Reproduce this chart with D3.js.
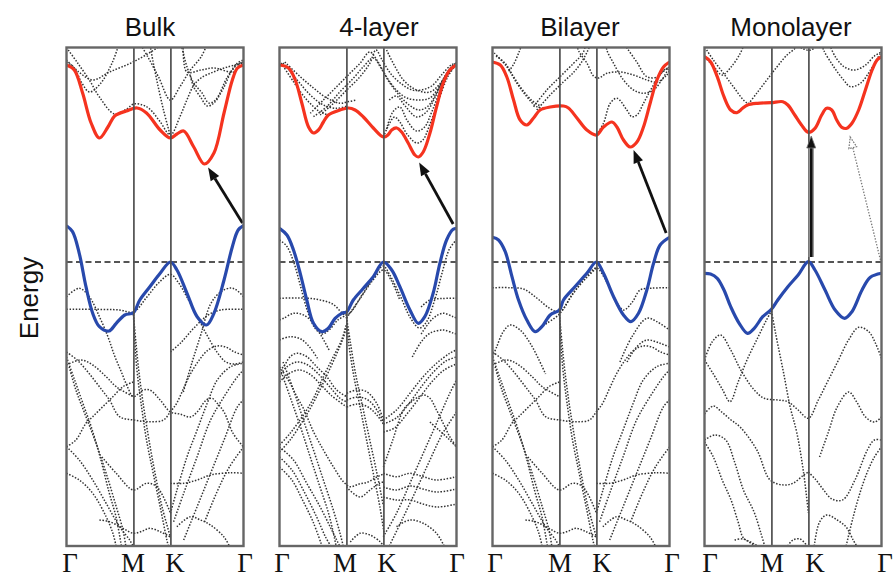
<!DOCTYPE html>
<html>
<head>
<meta charset="utf-8">
<script src="https://cdn.jsdelivr.net/npm/d3@7"></script>
<style>
  body { margin: 0; background: #fff; }
  svg { display: block; }
</style>
</head>
<body>
<svg id="chart" width="894" height="579"></svg>
<script>
// ---- high-symmetry path (fraction of Γ–M–K–Γ path length) ----
const kLabels = ["Γ", "M", "K", "Γ"];
const kTicks = [0, 0.378, 0.587, 1];
// energy window (eV, valence-band maximum at 0)
const energyDomain = [-2.84, 2.145];
const panelTitles = ["Bulk", "4-layer", "Bilayer", "Monolayer"];

// ---- Bulk ----
const bulkCB = [[0,1.97],[0.044,1.92],[0.091,1.69],[0.139,1.39],[0.186,1.24],[0.234,1.35],[0.272,1.46],[0.338,1.51],[0.399,1.54],[0.452,1.49],[0.529,1.32],[0.587,1.24],[0.624,1.28],[0.662,1.31],[0.719,1.15],[0.779,0.98],[0.833,1.09],[0.89,1.49],[0.937,1.82],[0.966,1.94],[1,1.97]];
const bulkVB = [[0,0.363],[0.034,0.303],[0.072,0.087],[0.11,-0.247],[0.148,-0.513],[0.186,-0.647],[0.24,-0.69],[0.281,-0.613],[0.329,-0.53],[0.378,-0.507],[0.414,-0.38],[0.471,-0.247],[0.529,-0.113],[0.587,0.0],[0.624,-0.08],[0.681,-0.313],[0.738,-0.547],[0.791,-0.63],[0.833,-0.513],[0.89,-0.18],[0.937,0.153],[0.97,0.32],[1,0.363]];
const bulkUpper = [
  [[0,2.02],[0.07,1.90],[0.148,1.82],[0.243,1.90],[0.376,2.0],[0.51,2.14],[0.55,2.2]],
  [[0.01,2.12],[0.063,1.99],[0.129,1.82],[0.186,1.65],[0.272,1.48],[0.34,1.53],[0.38,1.58],[0.43,1.57],[0.47,1.53],[0.53,1.40],[0.587,1.27],[0.64,1.45],[0.68,1.62],[0.72,1.77],[0.76,1.84],[0.83,1.90],[0.91,1.95],[1,1.99]],
  [[0.47,2.2],[0.48,2.09],[0.51,1.82],[0.548,1.52],[0.587,1.26]],
  [[0.64,2.2],[0.652,2.14],[0.681,1.95],[0.719,1.79],[0.766,1.69],[0.804,1.59],[0.842,1.62],[0.909,1.85],[0.966,1.99],[1,2.02]],
  [[0.66,2.2],[0.68,1.90],[0.76,1.92],[0.833,1.94],[0.947,1.90],[0.985,1.99],[1,2.0]],
  [[0.70,1.86],[0.719,1.75],[0.757,1.65],[0.795,1.56],[0.833,1.59],[0.89,1.75],[0.93,1.90],[0.97,1.98],[1,2.0]],
  [[0,2.0],[0.04,1.95],[0.09,1.78],[0.13,1.70],[0.19,1.78],[0.26,2.0],[0.3,2.2]],
  [[0.41,2.2],[0.46,2.05],[0.52,1.85],[0.587,1.62],[0.64,1.75],[0.70,1.92],[0.76,2.05],[0.8,2.2]]
];
const bulkLower = [
  [[0,-0.347],[0.072,-0.263],[0.129,-0.347],[0.186,-0.547],[0.234,-0.747],[0.27,-0.93],[0.31,-1.10],[0.345,-1.25],[0.378,-1.347],[0.433,-1.28],[0.471,-1.28],[0.529,-1.38],[0.587,-1.50],[0.64,-1.52],[0.70,-1.55],[0.738,-1.50],[0.79,-1.38],[0.823,-1.363],[0.85,-1.41],[0.89,-1.50],[0.94,-1.71],[1,-1.85]],
  [[0,-0.473],[0.15,-0.473],[0.3,-0.48],[0.378,-0.50],[0.45,-0.36],[0.52,-0.21],[0.587,-0.123],[0.63,-0.20],[0.68,-0.35],[0.74,-0.55],[0.79,-0.72],[0.85,-0.90],[0.9,-1.0],[0.95,-1.02],[1,-1.0]],
  [[0.587,-0.9],[0.65,-0.80],[0.72,-0.66],[0.80,-0.53],[0.87,-0.48],[1,-0.473]],
  [[0.66,-1.3],[0.71,-1.0],[0.76,-0.72],[0.814,-0.42],[0.87,-0.30],[0.928,-0.26],[0.96,-0.28],[1,-0.347]]
];

// deeper valence bands common to the bulk and bilayer structures
const layeredDeep = [
  [[0,-1.03],[0.082,-0.98],[0.148,-1.03],[0.224,-1.147],[0.281,-1.247],[0.378,-1.347]],
  [[0,-0.9],[0.06,-0.98],[0.13,-1.12],[0.2,-1.28],[0.243,-1.38],[0.3,-1.547],[0.378,-1.58],[0.471,-1.597],[0.548,-1.58],[0.587,-1.497],[0.62,-1.42],[0.66,-1.27],[0.70,-1.12],[0.75,-0.98],[0.8,-0.88],[0.85,-0.84],[0.9,-0.85],[0.95,-0.9],[1,-0.93]],
  [[0.587,-2.513],[0.624,-2.28],[0.681,-1.947],[0.738,-1.68],[0.795,-1.413],[0.852,-1.18],[0.928,-1.047],[1,-1.013]],
  [[0.605,-2.597],[0.662,-2.313],[0.738,-1.947],[0.814,-1.58],[0.89,-1.347],[0.966,-1.147],[1,-1.08]],
  [[0.662,-2.78],[0.738,-2.447],[0.814,-2.113],[0.89,-1.78],[0.966,-1.447],[1,-1.38]],
  [[0.587,-2.213],[0.662,-2.213],[0.738,-2.18],[0.814,-2.13],[0.928,-2.107],[1,-2.113]],
  [[0.78,-2.6],[0.85,-2.3],[0.92,-2.05],[1,-1.85]],
  [[0,-1.847],[0.053,-1.78],[0.11,-1.613],[0.148,-1.547],[0.205,-1.447],[0.262,-1.347],[0.319,-1.247],[0.378,-1.2]],
  [[0,-1.847],[0.072,-1.98],[0.148,-2.18],[0.224,-2.413],[0.3,-2.647],[0.357,-2.78],[0.376,-2.84]],
  [[0,-2.113],[0.072,-2.18],[0.148,-2.313],[0.224,-2.547],[0.262,-2.713],[0.28,-2.84]],
  [[0.015,-1.047],[0.053,-1.28],[0.11,-1.547],[0.167,-1.813],[0.224,-2.113],[0.281,-2.447],[0.319,-2.68],[0.335,-2.84]],
  [[0,-0.95],[0.04,-1.15],[0.09,-1.40],[0.14,-1.65],[0.19,-1.95],[0.24,-2.30],[0.28,-2.55],[0.31,-2.84]],
  [[0.378,-0.50],[0.385,-0.78],[0.40,-1.113],[0.424,-1.447],[0.452,-1.78],[0.49,-2.113],[0.529,-2.447],[0.567,-2.78],[0.575,-2.84]],
  [[0.378,-0.52],[0.392,-0.8],[0.41,-1.11],[0.436,-1.45],[0.466,-1.78],[0.50,-2.11],[0.54,-2.45],[0.587,-2.75]],
  [[0.2,-1.95],[0.281,-2.113],[0.378,-2.28],[0.452,-2.213],[0.51,-2.247],[0.587,-2.51]],
  [[0.186,-2.58],[0.243,-2.597],[0.319,-2.663],[0.378,-2.713],[0.43,-2.69],[0.471,-2.663],[0.529,-2.697],[0.587,-2.75]],
  [[0.624,-2.647],[0.70,-2.547],[0.757,-2.58],[0.814,-2.63],[0.89,-2.75],[0.92,-2.84]]
];

// ---- 4-layer ----
const fourCB = [[0,1.97],[0.051,1.94],[0.089,1.82],[0.126,1.59],[0.164,1.35],[0.192,1.29],[0.22,1.32],[0.248,1.40],[0.276,1.47],[0.342,1.52],[0.389,1.54],[0.427,1.52],[0.474,1.45],[0.53,1.34],[0.587,1.25],[0.612,1.27],[0.634,1.32],[0.662,1.34],[0.69,1.30],[0.727,1.19],[0.765,1.07],[0.784,1.05],[0.812,1.10],[0.85,1.29],[0.887,1.55],[0.925,1.79],[0.962,1.92],[1,1.97]];
const fourVB = [[0,0.337],[0.042,0.27],[0.079,0.12],[0.117,-0.113],[0.154,-0.38],[0.192,-0.613],[0.239,-0.697],[0.276,-0.663],[0.314,-0.563],[0.352,-0.513],[0.38,-0.497],[0.417,-0.38],[0.474,-0.263],[0.53,-0.147],[0.587,0.0],[0.634,-0.08],[0.68,-0.247],[0.737,-0.48],[0.784,-0.613],[0.821,-0.547],[0.868,-0.313],[0.906,-0.013],[0.944,0.22],[0.981,0.327],[1,0.337]];
const fourUpper = [
  [[0.01,1.99],[0.08,1.80],[0.155,1.62],[0.23,1.50],[0.276,1.47]],
  [[0.02,1.99],[0.10,1.82],[0.174,1.67],[0.248,1.57],[0.323,1.537],[0.38,1.56]],
  [[0.03,2.0],[0.117,1.853],[0.192,1.74],[0.267,1.64],[0.342,1.587],[0.38,1.60],[0.436,1.62]],
  [[0.174,1.487],[0.248,1.62],[0.323,1.753],[0.398,1.887],[0.455,1.987],[0.51,2.10],[0.55,2.02],[0.605,1.85],[0.66,1.72],[0.72,1.64],[0.79,1.62],[0.85,1.64],[0.9,1.75],[0.95,1.9],[1,1.99]],
  [[0.192,1.453],[0.267,1.553],[0.342,1.703],[0.417,1.837],[0.474,1.953],[0.53,2.04],[0.57,1.95],[0.62,1.80],[0.68,1.66],[0.74,1.56],[0.79,1.52],[0.84,1.56],[0.89,1.70],[0.94,1.87],[1,1.98]],
  [[0.23,1.47],[0.305,1.587],[0.38,1.72],[0.455,1.853],[0.51,1.987],[0.545,2.12],[0.58,2.02],[0.63,1.88],[0.69,1.78],[0.75,1.72],[0.80,1.72],[0.86,1.76],[0.92,1.88],[0.97,1.97],[1,1.99]],
  [[0.587,1.25],[0.62,1.38],[0.65,1.45],[0.68,1.40],[0.72,1.28],[0.774,1.19],[0.81,1.22],[0.85,1.38],[0.9,1.62],[0.95,1.85],[1,1.98]],
  [[0.605,1.33],[0.64,1.50],[0.68,1.55],[0.72,1.42],[0.774,1.31],[0.82,1.35],[0.86,1.50],[0.91,1.72],[0.96,1.90],[1,1.98]],
  [[0.62,1.62],[0.66,1.66],[0.71,1.56],[0.774,1.45],[0.83,1.50],[0.88,1.65],[0.93,1.84],[1,1.98]],
  [[0.605,2.12],[0.70,1.82],[0.774,1.72],[0.85,1.70],[0.915,1.80],[0.97,1.95],[1,1.99]]
];
const fourLower = [
  [[0,0.22],[0.04,0.16],[0.08,0.0],[0.12,-0.25],[0.16,-0.5],[0.2,-0.66],[0.24,-0.72],[0.28,-0.68],[0.33,-0.58],[0.378,-0.53]],
  [[0,-0.363],[0.1,-0.36],[0.2,-0.37],[0.3,-0.42],[0.378,-0.53],[0.47,-0.32],[0.55,-0.10],[0.587,-0.04],[0.62,-0.12],[0.68,-0.33],[0.74,-0.56],[0.79,-0.66],[0.83,-0.60],[0.88,-0.36],[0.92,-0.1],[0.96,0.13],[1,0.22]],
  [[0,-0.58],[0.023,-0.563],[0.079,-0.513],[0.136,-0.53],[0.192,-0.613],[0.24,-0.75],[0.28,-0.88]],
  [[0,-0.78],[0.06,-0.747],[0.12,-0.77],[0.17,-0.85],[0.22,-0.98]],
  [[0.80,-0.45],[0.85,-0.38],[0.92,-0.365],[1,-0.363]],
  [[0.80,-0.72],[0.868,-0.563],[0.924,-0.513],[0.981,-0.547],[1,-0.56]],
  [[0.75,-0.95],[0.80,-0.80],[0.849,-0.713],[0.924,-0.68],[0.981,-0.71],[1,-0.72]],
  [[0.378,-0.56],[0.45,-0.38],[0.52,-0.20],[0.587,-0.08],[0.63,-0.18],[0.68,-0.38]]
];
const fourDeep = [
  [[0,-1.08],[0.023,-1.047],[0.06,-0.947],[0.098,-0.913],[0.154,-0.947],[0.21,-1.047],[0.267,-1.147],[0.323,-1.28],[0.38,-1.347]],
  [[0,-1.15],[0.04,-1.05],[0.1,-1.0],[0.16,-1.03],[0.22,-1.12],[0.28,-1.24],[0.34,-1.36],[0.38,-1.40]],
  [[0,-1.2],[0.05,-1.12],[0.11,-1.08],[0.17,-1.12],[0.23,-1.22],[0.29,-1.33],[0.38,-1.45]],
  [[0.38,-1.313],[0.436,-1.28],[0.492,-1.297],[0.549,-1.413],[0.587,-1.58]],
  [[0.38,-1.38],[0.44,-1.35],[0.50,-1.38],[0.55,-1.48],[0.587,-1.60]],
  [[0.38,-1.45],[0.44,-1.42],[0.50,-1.45],[0.55,-1.53],[0.587,-1.62]],
  [[0,-1.05],[0.013,-1.08],[0.06,-1.213],[0.098,-1.347],[0.135,-1.463],[0.192,-1.697],[0.248,-1.88],[0.304,-2.047],[0.361,-2.197],[0.398,-2.247],[0.45,-2.22],[0.5,-2.20],[0.55,-2.15],[0.587,-2.12]],
  [[0,-1.83],[0.06,-1.713],[0.135,-1.53],[0.192,-1.363],[0.248,-1.147],[0.304,-0.947],[0.351,-0.78],[0.378,-0.62]],
  [[0,-1.90],[0.06,-1.78],[0.135,-1.58],[0.2,-1.38],[0.26,-1.16],[0.32,-0.93],[0.36,-0.76],[0.378,-0.65]],
  [[0,-1.85],[0.079,-1.98],[0.154,-2.213],[0.229,-2.447],[0.286,-2.647],[0.323,-2.78],[0.34,-2.84]],
  [[0,-1.95],[0.07,-2.08],[0.14,-2.3],[0.21,-2.55],[0.26,-2.75],[0.29,-2.84]],
  [[0,-2.05],[0.07,-2.18],[0.13,-2.38],[0.19,-2.6],[0.24,-2.84]],
  [[0.02,-1.0],[0.079,-1.28],[0.135,-1.58],[0.192,-1.88],[0.248,-2.18],[0.304,-2.48],[0.342,-2.713],[0.36,-2.84]],
  [[0.01,-1.1],[0.06,-1.35],[0.115,-1.63],[0.17,-1.93],[0.225,-2.23],[0.28,-2.53],[0.32,-2.84]],
  [[0.378,-0.52],[0.389,-0.78],[0.417,-1.113],[0.455,-1.447],[0.492,-1.78],[0.53,-2.113],[0.567,-2.447],[0.59,-2.7]],
  [[0.378,-0.55],[0.40,-0.80],[0.43,-1.12],[0.47,-1.45],[0.51,-1.78],[0.55,-2.11],[0.587,-2.44]],
  [[0.586,-2.747],[0.661,-2.513],[0.737,-2.213],[0.812,-1.913],[0.887,-1.613],[0.962,-1.313],[1,-1.18]],
  [[0.587,-1.58],[0.661,-1.48],[0.737,-1.313],[0.812,-1.147],[0.887,-1.013],[0.962,-0.913],[1,-0.88]],
  [[0.587,-1.62],[0.66,-1.56],[0.73,-1.42],[0.80,-1.25],[0.87,-1.10],[0.94,-0.99],[1,-0.95]],
  [[0.587,-1.70],[0.65,-1.66],[0.72,-1.52],[0.79,-1.36],[0.86,-1.20],[0.93,-1.08],[1,-1.02]],
  [[0.587,-2.05],[0.64,-1.78],[0.70,-1.48],[0.737,-1.41],[0.812,-1.33],[0.85,-1.363],[0.887,-1.48],[0.925,-1.613],[0.962,-1.747],[1,-1.847]],
  [[0.85,-1.6],[0.9,-1.68],[0.95,-1.76],[1,-1.85]],
  [[0.587,-2.113],[0.661,-2.147],[0.737,-2.113],[0.812,-2.147],[0.887,-2.18],[1,-2.147]],
  [[0.587,-2.25],[0.66,-2.28],[0.74,-2.24],[0.81,-2.27],[0.89,-2.30],[1,-2.27]],
  [[0.587,-2.35],[0.66,-2.38],[0.74,-2.38],[0.81,-2.42],[0.89,-2.45],[1,-2.42]],
  [[0.40,-2.8],[0.455,-2.713],[0.511,-2.73],[0.57,-2.8],[0.587,-2.84]],
  [[0.661,-2.647],[0.737,-2.58],[0.812,-2.613],[0.887,-2.713],[0.93,-2.84]],
  [[0.62,-2.84],[0.70,-2.55],[0.78,-2.25],[0.85,-1.98],[0.92,-1.72],[1,-1.50]],
  [[0.378,-2.25],[0.455,-2.35],[0.511,-2.28],[0.567,-2.21],[0.587,-2.2]]
];

// ---- Bilayer ----
const biCB = [[0,2.00],[0.044,1.97],[0.081,1.85],[0.119,1.62],[0.156,1.42],[0.194,1.37],[0.232,1.44],[0.269,1.52],[0.326,1.55],[0.401,1.56],[0.429,1.54],[0.477,1.44],[0.533,1.32],[0.587,1.27],[0.627,1.35],[0.675,1.40],[0.703,1.35],[0.74,1.22],[0.778,1.15],[0.816,1.20],[0.853,1.35],[0.891,1.59],[0.929,1.82],[0.966,1.95],[1,2.00]];
const biVB = [[0,0.247],[0.034,0.22],[0.072,0.103],[0.11,-0.147],[0.147,-0.38],[0.194,-0.58],[0.241,-0.697],[0.279,-0.647],[0.326,-0.53],[0.378,-0.48],[0.401,-0.38],[0.458,-0.263],[0.533,-0.113],[0.587,0.0],[0.627,-0.113],[0.684,-0.347],[0.74,-0.53],[0.782,-0.597],[0.825,-0.513],[0.872,-0.28],[0.91,-0.013],[0.947,0.17],[1,0.247]];
const biUpper = [
  [[0.01,2.09],[0.081,1.953],[0.138,1.787],[0.194,1.653],[0.25,1.553],[0.307,1.537]],
  [[0.02,2.06],[0.07,1.99],[0.119,1.853],[0.17,1.72],[0.22,1.62],[0.27,1.56]],
  [[0.232,1.553],[0.307,1.72],[0.382,1.853],[0.458,1.987],[0.495,2.053],[0.514,2.10],[0.53,2.2]],
  [[0.25,1.52],[0.32,1.66],[0.40,1.80],[0.46,1.90],[0.50,1.99],[0.54,2.12],[0.56,2.2]],
  [[0.47,2.2],[0.49,2.1],[0.533,1.99],[0.571,1.86],[0.60,1.84],[0.646,1.887],[0.72,1.90],[0.797,1.87],[0.872,1.82],[0.93,1.80],[0.985,1.87],[1,1.92]],
  [[0.64,2.2],[0.646,2.12],[0.684,1.987],[0.74,1.82],[0.797,1.72],[0.853,1.687],[0.91,1.72],[0.956,1.82],[1,1.95]],
  [[0.74,2.2],[0.76,2.14],[0.815,2.0],[0.872,1.853],[0.93,1.85],[0.97,1.92],[1,1.95]],
  [[0.587,1.27],[0.627,1.387],[0.665,1.587],[0.703,1.637],[0.759,1.52],[0.787,1.453],[0.816,1.47],[0.853,1.587],[0.9,1.74],[0.95,1.88],[1,1.95]],
  [[0.17,2.2],[0.15,2.1],[0.12,1.98],[0.09,1.90]]
];
const biLower = [
  [[0,-0.257],[0.1,-0.257],[0.175,-0.27],[0.25,-0.36],[0.32,-0.46],[0.378,-0.50],[0.45,-0.33],[0.52,-0.17],[0.587,-0.06],[0.63,-0.15],[0.68,-0.33],[0.74,-0.48],[0.79,-0.40],[0.834,-0.28],[0.9,-0.262],[1,-0.257]],
  [[0,-0.95],[0.024,-0.847],[0.06,-0.70],[0.10,-0.63],[0.156,-0.68],[0.213,-0.813],[0.26,-0.97],[0.30,-1.12]],
  [[0.72,-1.0],[0.788,-0.747],[0.872,-0.563],[0.929,-0.597],[1,-0.68]],
  [[0.76,-1.0],[0.816,-0.847],[0.872,-0.78],[0.947,-0.813],[1,-0.85]],
  [[0.30,-0.62],[0.378,-0.52],[0.46,-0.30],[0.53,-0.16],[0.587,-0.06]]
];

// ---- Monolayer ----
const monoCB = [[0,2.053],[0.034,2.003],[0.072,1.853],[0.11,1.653],[0.148,1.52],[0.183,1.493],[0.215,1.537],[0.243,1.57],[0.3,1.587],[0.376,1.593],[0.443,1.603],[0.471,1.57],[0.51,1.47],[0.548,1.37],[0.587,1.297],[0.624,1.337],[0.662,1.47],[0.69,1.537],[0.719,1.52],[0.747,1.42],[0.776,1.347],[0.804,1.337],[0.833,1.387],[0.871,1.52],[0.909,1.72],[0.947,1.92],[0.975,2.02],[1,2.053]];
const monoVB = [[0,-0.113],[0.034,-0.12],[0.072,-0.163],[0.11,-0.28],[0.148,-0.447],[0.196,-0.613],[0.243,-0.713],[0.281,-0.663],[0.329,-0.547],[0.378,-0.473],[0.414,-0.38],[0.471,-0.247],[0.529,-0.13],[0.587,0.003],[0.624,-0.08],[0.681,-0.28],[0.738,-0.48],[0.791,-0.563],[0.833,-0.497],[0.89,-0.28],[0.937,-0.153],[1,-0.113]];
const monoUpper = [
  [[0.012,2.12],[0.05,2.02],[0.107,1.887],[0.163,1.753],[0.22,1.62],[0.248,1.58]],
  [[0,2.05],[0.05,1.96],[0.1,1.87],[0.15,1.95],[0.2,2.08],[0.23,2.2]],
  [[0.248,1.58],[0.296,1.69],[0.352,1.82],[0.409,1.95],[0.466,2.07],[0.513,2.14],[0.53,2.2]],
  [[0.66,2.2],[0.673,2.12],[0.73,1.953],[0.786,1.82],[0.824,1.753],[0.881,1.787],[0.938,1.92],[0.994,2.087],[1,2.1]],
  [[0.70,2.2],[0.74,2.05],[0.79,1.95],[0.85,1.92],[0.91,1.97],[0.96,2.06],[1,2.1]],
  [[0.5,2.2],[0.56,2.13],[0.6,2.12],[0.66,2.2]]
];
const monoLower = [
  [[0,-0.98],[0.044,-0.797],[0.091,-0.73],[0.148,-0.88],[0.205,-1.08],[0.281,-1.28],[0.338,-1.363],[0.414,-1.38],[0.471,-1.397],[0.529,-1.48],[0.587,-1.563],[0.643,-1.38],[0.7,-1.18],[0.757,-0.98],[0.814,-0.78],[0.871,-0.653],[0.928,-0.697],[0.966,-0.813],[1,-0.963]],
  [[0,-0.98],[0.05,-1.12],[0.1,-1.27],[0.144,-1.397],[0.19,-1.2],[0.24,-0.98],[0.30,-0.76],[0.35,-0.58],[0.378,-0.49]],
  [[0.378,-0.49],[0.395,-0.65],[0.409,-0.78],[0.447,-1.11],[0.484,-1.45],[0.522,-1.71],[0.56,-2.11],[0.587,-2.51]],
  [[0.587,-2.10],[0.63,-2.18],[0.673,-2.28],[0.72,-2.37],[0.78,-2.38],[0.85,-2.18],[0.92,-1.88],[0.96,-1.78],[1,-1.78]],
  [[0.62,-2.84],[0.65,-2.6],[0.69,-2.53],[0.75,-2.58],[0.80,-2.65],[0.84,-2.78],[0.86,-2.84]],
  [[0.65,-1.95],[0.70,-1.70],[0.75,-1.45],[0.815,-1.30],[0.86,-1.40],[0.91,-1.55],[0.96,-1.60],[1,-1.55]],
  [[0,-1.78],[0.06,-1.73],[0.12,-1.78],[0.17,-2.0],[0.22,-2.28],[0.28,-2.5],[0.32,-2.72],[0.34,-2.84]],
  [[0,-1.80],[0.05,-1.95],[0.1,-2.18],[0.15,-2.38],[0.19,-2.6],[0.22,-2.76],[0.26,-2.8],[0.30,-2.84]],
  [[0,-1.52],[0.05,-1.44],[0.097,-1.50],[0.15,-1.58],[0.201,-1.65],[0.296,-1.88],[0.371,-2.18],[0.447,-2.23],[0.503,-2.21],[0.56,-2.13],[0.587,-2.10]],
  [[0.47,-2.84],[0.50,-2.78],[0.54,-2.77],[0.58,-2.84]],
  [[0.17,-2.78],[0.22,-2.77],[0.27,-2.82],[0.3,-2.84]],
  [[0.80,-2.84],[0.84,-2.55],[0.88,-2.30],[0.92,-2.10],[0.96,-1.95],[1,-1.85]]
];

// optical transitions: [k, E] start -> [k, E] end
const bulkGapArrow = [[0.994, 0.39], [0.80, 0.945]];
const fourGapArrow = [[0.981, 0.38], [0.789, 0.995]];
const biGapArrow = [[0.981, 0.29], [0.797, 1.12]];
const monoDirectArrow = [[0.603, 0.05], [0.603, 1.26]];
const monoIndirectArrow = [[0.994, 0.02], [0.823, 1.25]];

// ---------------- drawing ----------------
const svg = d3.select("#chart");
const plotTop = 47.5, plotBottom = 546, panelW = 177;
const y = d3.scaleLinear().domain(energyDomain).range([plotBottom, plotTop]);

const panels = [
  { left: 66.5,  titleX: 150, cb: bulkCB, vb: bulkVB, bands: [...bulkUpper, ...bulkLower, ...layeredDeep],
    arrows: [{ pts: bulkGapArrow, kind: "solid" }], labelDx: [3, -1, 4, 1] },
  { left: 279.5, titleX: 379, cb: fourCB, vb: fourVB, bands: [...fourUpper, ...fourLower, ...fourDeep],
    arrows: [{ pts: fourGapArrow, kind: "solid" }], labelDx: [2, -2, 3, 0] },
  { left: 492.5, titleX: 580, cb: biCB, vb: biVB, bands: [...biUpper, ...biLower, ...layeredDeep],
    arrows: [{ pts: biGapArrow, kind: "solid" }], labelDx: [2, 0, 5, 2] },
  { left: 704.5, titleX: 791, cb: monoCB, vb: monoVB, bands: [...monoUpper, ...monoLower],
    arrows: [{ pts: monoDirectArrow, kind: "thick" }, { pts: monoIndirectArrow, kind: "dotted" }], labelDx: [5, 0, 6, 3] }
];

const defs = svg.append("defs");

function arrowHead(x1, y1, x2, y2, len, wid) {
  const a = Math.atan2(y2 - y1, x2 - x1);
  const bx = x2 - len * Math.cos(a), by = y2 - len * Math.sin(a);
  const px = -Math.sin(a) * wid / 2, py = Math.cos(a) * wid / 2;
  return { base: [bx, by], d: `M${x2},${y2}L${bx + px},${by + py}L${bx - px},${by - py}Z` };
}

panels.forEach((p, i) => {
  const x = d3.scaleLinear().domain([0, 1]).range([p.left, p.left + panelW]);
  const line = d3.line().x(d => x(d[0])).y(d => y(d[1])).curve(d3.curveCatmullRom.alpha(0.5));
  const g = svg.append("g");

  defs.append("clipPath").attr("id", "clip" + i)
    .append("rect").attr("x", p.left).attr("y", plotTop).attr("width", panelW).attr("height", plotBottom - plotTop);

  const inner = g.append("g").attr("clip-path", `url(#clip${i})`);

  // remaining bands, dotted
  inner.selectAll("path.band").data(p.bands).join("path")
    .attr("class", "band").attr("d", line)
    .attr("fill", "none").attr("stroke", "#333")
    .attr("stroke-width", 1.5).attr("stroke-dasharray", "1.5 1.6");

  // M and K symmetry lines via an axis with full-height ticks
  const symAxis = d3.axisBottom(x).tickValues(kTicks.slice(1, 3)).tickSize(-(plotBottom - plotTop)).tickFormat("");
  const sym = g.append("g").attr("transform", `translate(0,${plotBottom})`).call(symAxis);
  sym.select(".domain").remove();
  sym.selectAll(".tick line").attr("stroke", "#505050").attr("stroke-width", 1.7);

  // valence-band maximum reference
  inner.append("line")
    .attr("x1", x(0)).attr("x2", x(1)).attr("y1", y(0)).attr("y2", y(0))
    .attr("stroke", "#555").attr("stroke-width", 2).attr("stroke-dasharray", "6 3.5");

  // lowest conduction band and highest valence band
  inner.append("path").datum(p.cb).attr("d", line)
    .attr("fill", "none").attr("stroke", "#f5331f").attr("stroke-width", 3.2).attr("stroke-linejoin", "round");
  inner.append("path").datum(p.vb).attr("d", line)
    .attr("fill", "none").attr("stroke", "#2849ac").attr("stroke-width", 3.2).attr("stroke-linejoin", "round");

  // transition arrows
  p.arrows.forEach(a => {
    const [s, e] = a.pts;
    const x1 = x(s[0]), y1 = y(s[1]), x2 = x(e[0]), y2 = y(e[1]);
    if (a.kind === "solid") {
      const h = arrowHead(x1, y1, x2, y2, 13, 10);
      g.append("line").attr("x1", x1).attr("y1", y1).attr("x2", h.base[0]).attr("y2", h.base[1])
        .attr("stroke", "#111").attr("stroke-width", 2.8);
      g.append("path").attr("d", h.d).attr("fill", "#111");
    } else if (a.kind === "thick") {
      const h = arrowHead(x1, y1, x2, y2, 12, 9);
      g.append("line").attr("x1", x1).attr("y1", y1).attr("x2", h.base[0]).attr("y2", h.base[1])
        .attr("stroke", "#9a9a9a").attr("stroke-width", 5.5);
      g.append("line").attr("x1", x1).attr("y1", y1).attr("x2", h.base[0]).attr("y2", h.base[1])
        .attr("stroke", "#111").attr("stroke-width", 2.6);
      g.append("path").attr("d", h.d).attr("fill", "#111").attr("stroke", "#777").attr("stroke-width", 0.8);
    } else {
      const h = arrowHead(x1, y1, x2, y2, 11, 8);
      g.append("line").attr("x1", x1).attr("y1", y1).attr("x2", h.base[0]).attr("y2", h.base[1])
        .attr("stroke", "#777").attr("stroke-width", 1.3).attr("stroke-dasharray", "1.4 1.6");
      g.append("path").attr("d", h.d).attr("fill", "#fff")
        .attr("stroke", "#777").attr("stroke-width", 1.2).attr("stroke-dasharray", "1.6 1.2");
    }
  });

  // panel frame
  g.append("rect").attr("x", p.left).attr("y", plotTop).attr("width", panelW).attr("height", plotBottom - plotTop)
    .attr("fill", "none").attr("stroke", "#666").attr("stroke-width", 2.4);

  // high-symmetry point labels
  const kAxis = d3.axisBottom(x).tickValues(kTicks).tickFormat((d, j) => kLabels[j]).tickSize(0);
  const ax = g.append("g").attr("transform", `translate(0,${plotBottom})`).call(kAxis);
  ax.select(".domain").remove();
  ax.selectAll(".tick text")
    .attr("y", 26).attr("dy", null)
    .attr("dx", (d, j) => p.labelDx[j])
    .attr("fill", "#111")
    .style("font-family", "'Liberation Serif', 'Times New Roman', serif")
    .style("font-size", "27px");

  // panel title
  svg.append("text").attr("x", p.titleX).attr("y", 36).attr("text-anchor", "middle")
    .style("font-family", "'Liberation Sans', Arial, sans-serif").style("font-size", "26px").attr("fill", "#111")
    .text(panelTitles[i]);
});

// energy axis title
svg.append("text")
  .attr("transform", "translate(38,298) rotate(-90)")
  .attr("text-anchor", "middle")
  .style("font-family", "'Liberation Sans', Arial, sans-serif").style("font-size", "26px").attr("fill", "#111")
  .text("Energy");
</script>
</body>
</html>
